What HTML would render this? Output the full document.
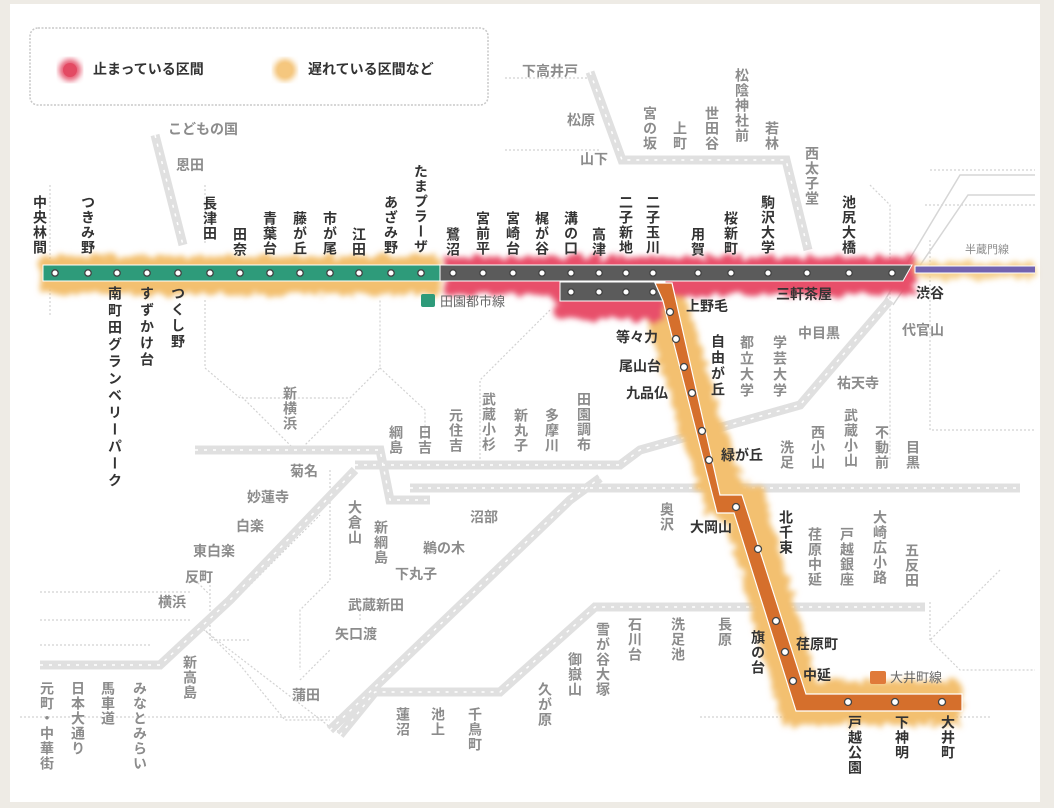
<!DOCTYPE html>
<html><head><meta charset="utf-8">
<style>
body{margin:0;width:1054px;height:808px;background:#eeebe5;overflow:hidden;font-family:"Liberation Sans","Noto Sans CJK JP",sans-serif;}
#p{position:absolute;left:10px;top:4px;width:1030px;height:798px;background:#fff;}
svg{position:absolute;left:0;top:0}
.t{position:absolute;font-weight:bold;font-size:14px;line-height:15px;white-space:nowrap}
.v{writing-mode:vertical-rl;letter-spacing:1px}
.d{color:#333}
.g{color:#8c8c8c}
.lb{letter-spacing:3px}
</style></head><body>
<div id="p"></div>
<svg width="1054" height="808" viewBox="0 0 1054 808">
<defs>
<filter id="b" x="-10%" y="-50%" width="120%" height="200%">
<feTurbulence type="fractalNoise" baseFrequency="0.12" numOctaves="2" result="n"/>
<feDisplacementMap in="SourceGraphic" in2="n" scale="14" xChannelSelector="R" yChannelSelector="G" result="d"/>
<feGaussianBlur in="d" stdDeviation="3"/>
</filter>
<filter id="b2"><feGaussianBlur stdDeviation="3"/></filter>
</defs>
<rect x="30" y="28" width="458" height="77" rx="8" fill="#fff" stroke="#c8c8c8" stroke-dasharray="2 1.5" stroke-width="1.5"/>
<circle cx="70" cy="70" r="11" fill="#e34a63" filter="url(#b2)" opacity=".9"/>
<circle cx="70" cy="70" r="7" fill="#e34a63"/>
<circle cx="285" cy="70" r="11" fill="#f3c070" filter="url(#b2)"/>
<circle cx="285" cy="70" r="7" fill="#f5c77e"/>
<g fill="none" stroke="#d2d2d2" stroke-width="1.2" stroke-dasharray="2 2">
<path d="M505 78H590M505 150H600"/>
<path d="M50 185V315M205 185V245"/>
<path d="M205 300V368L240 398H350L380 368V300M380 368L425 410V440"/>
<path d="M550 310L480 380V465"/>
<path d="M870 185L890 205V460M930 240V430L1035 430M930 170H1035M925 205H1035"/>
<path d="M200 450H295L240 395M300 450L350 400"/>
<path d="M195 580L210 595M210 585V640H250M200 625L240 665L285 720H330"/>
<path d="M200 627L330 727L340 732M330 470V580L300 610L300 670M40 592H190M40 620H190M40 645H150"/>
<path d="M360 620V600M20 717H340M700 717H990"/>
<path d="M1000 570L930 640L960 670H1035M930 640V600"/>
<path d="M240 595L320 515"/>
<path d="M300 680L330 650"/>
</g>
<g fill="none" stroke="#d6d6d6" stroke-width="1.5">
<path d="M885 300L960 175H1035M893 305L968 195H1035"/>
</g>
<g fill="none" stroke="#e0e0e0" stroke-width="9" stroke-linejoin="miter">
<path d="M155 135L183 245"/>
<path d="M590 72L622 160H786L808 250"/>
<path d="M195 450H380L390 500H430"/>
<path d="M355 465H620L640 450L800 405L890 300"/>
<path d="M410 488H1020"/>
<path d="M40 665H160L230 600L355 470"/>
<path d="M330 730L570 500L600 478"/>
<path d="M340 735L375 692H500L595 607H925"/>
</g>
<g fill="none" stroke="#fff" stroke-width="1.5" stroke-dasharray="3 6">
<path d="M155 135L183 245"/>
<path d="M590 72L622 160H786L808 250"/>
<path d="M195 450H380L390 500H430"/>
<path d="M355 465H620L640 450L800 405L890 300"/>
<path d="M410 488H1020"/>
<path d="M40 665H160L230 600L355 470"/>
<path d="M330 730L570 500L600 478"/>
<path d="M340 735L375 692H500L595 607H925"/>
</g>
<g filter="url(#b)">
<path d="M40 275H440" stroke="#f3c070" stroke-width="38" fill="none"/>
<path d="M905 270H1035" stroke="#f6d08e" stroke-width="16" fill="none"/>
<path d="M660 290L700 420L725 497L745 505L800 703H960" stroke="#f3c070" stroke-width="44" fill="none"/>
<path d="M445 276H915" stroke="#e8506a" stroke-width="38" fill="none"/>
<path d="M555 300H665" stroke="#e8506a" stroke-width="40" fill="none"/>
</g>
<rect x="43" y="265" width="400" height="16" fill="#2e9b7a" stroke="#fff" stroke-width="1"/>
<path d="M440 265H912L903 281H440Z" fill="#5b5b5b" stroke="#fff"/>
<path d="M560 282H665V301H560Z" fill="#5b5b5b" stroke="#fff"/>
<path d="M1035 266H915V273H1035" fill="#7263b0" stroke="#fff" stroke-width="1"/>
<path d="M655 283L672 283L720 495L742 495L806 694H962V711H796L734 513L717 513L663 301Z" fill="#d56f2c" stroke="#fff" stroke-width="1.2"/>
<g fill="#fff" stroke="#444" stroke-width="1.3">
<circle cx="55" cy="273" r="3.2"/><circle cx="88" cy="273" r="3.2"/><circle cx="117" cy="273" r="3.2"/><circle cx="147" cy="273" r="3.2"/><circle cx="178" cy="273" r="3.2"/><circle cx="210" cy="273" r="3.2"/><circle cx="240" cy="273" r="3.2"/><circle cx="270" cy="273" r="3.2"/><circle cx="300" cy="273" r="3.2"/><circle cx="330" cy="273" r="3.2"/><circle cx="359" cy="273" r="3.2"/><circle cx="391" cy="273" r="3.2"/><circle cx="421" cy="273" r="3.2"/>
<circle cx="453" cy="273" r="3.2"/><circle cx="483" cy="273" r="3.2"/><circle cx="513" cy="273" r="3.2"/><circle cx="542" cy="273" r="3.2"/><circle cx="571" cy="273" r="3.2"/><circle cx="599" cy="273" r="3.2"/><circle cx="626" cy="273" r="3.2"/><circle cx="653" cy="273" r="3.2"/><circle cx="698" cy="273" r="3.2"/><circle cx="731" cy="273" r="3.2"/><circle cx="768" cy="273" r="3.2"/><circle cx="807" cy="273" r="3.2"/><circle cx="849" cy="273" r="3.2"/><circle cx="892" cy="273" r="3.2"/>
<circle cx="571" cy="292" r="3.2"/><circle cx="599" cy="292" r="3.2"/><circle cx="626" cy="292" r="3.2"/><circle cx="653" cy="292" r="3.2"/>
<circle cx="670" cy="312" r="3.5"/><circle cx="676" cy="339" r="3.5"/><circle cx="684" cy="367" r="3.5"/><circle cx="692" cy="393" r="3.5"/><circle cx="702" cy="431" r="3.5"/><circle cx="709" cy="460" r="3.5"/><circle cx="736" cy="507" r="3.5"/><circle cx="758" cy="549" r="3.5"/><circle cx="776" cy="621" r="3.5"/><circle cx="785" cy="652" r="3.5"/><circle cx="793" cy="681" r="3.5"/><circle cx="848" cy="702" r="3.5"/><circle cx="895" cy="702" r="3.5"/><circle cx="942" cy="702" r="3.5"/>
</g>
<rect x="421" y="294" width="14" height="13" rx="2" fill="#2e9b7a"/>
<rect x="870" y="671" width="16" height="13" rx="2" fill="#e07a3a"/>
</svg>

<div class="t d" style="left:93px;top:62px">止まっている区間</div>
<div class="t d" style="left:308px;top:62px">遅れている区間など</div>
<div class="t g" style="left:440px;top:294px;font-weight:normal;font-size:13px;color:#666">田園都市線</div>
<div class="t g" style="left:890px;top:670px;font-weight:normal;font-size:13px;color:#666">大井町線</div>
<div class="t g" style="left:965px;top:243px;font-weight:normal;font-size:11px">半蔵門線</div>

<div class="t d v" style="left:32px;top:195px">中央林間</div>
<div class="t d v" style="left:80px;top:195px">つきみ野</div>
<div class="t d v" style="left:202px;top:196px">長津田</div>
<div class="t d v" style="left:232px;top:227px">田奈</div>
<div class="t d v" style="left:262px;top:211px">青葉台</div>
<div class="t d v" style="left:292px;top:211px">藤が丘</div>
<div class="t d v" style="left:322px;top:211px">市が尾</div>
<div class="t d v" style="left:351px;top:227px">江田</div>
<div class="t d v" style="left:383px;top:195px">あざみ野</div>
<div class="t d v" style="left:413px;top:164px">たまプラーザ</div>
<div class="t d v" style="left:445px;top:227px">鷺沼</div>
<div class="t d v" style="left:475px;top:211px">宮前平</div>
<div class="t d v" style="left:505px;top:211px">宮崎台</div>
<div class="t d v" style="left:534px;top:211px">梶が谷</div>
<div class="t d v" style="left:563px;top:211px">溝の口</div>
<div class="t d v" style="left:591px;top:227px">高津</div>
<div class="t d v" style="left:618px;top:195px">二子新地</div>
<div class="t d v" style="left:645px;top:195px">二子玉川</div>
<div class="t d v" style="left:690px;top:227px">用賀</div>
<div class="t d v" style="left:723px;top:211px">桜新町</div>
<div class="t d v" style="left:760px;top:195px">駒沢大学</div>
<div class="t d v" style="left:841px;top:195px">池尻大橋</div>
<div class="t d v lb" style="left:107px;top:286px">南町田グランベリーパーク</div>
<div class="t d v" style="left:139px;top:286px;letter-spacing:2.5px">すずかけ台</div>
<div class="t d v" style="left:170px;top:286px;letter-spacing:2px">つくし野</div>
<div class="t d v" style="left:710px;top:334px;letter-spacing:2px">自由が丘</div>
<div class="t d v" style="left:778px;top:510px">北千束</div>
<div class="t d v" style="left:750px;top:630px">旗の台</div>
<div class="t d v" style="left:847px;top:715px">戸越公園</div>
<div class="t d v" style="left:894px;top:715px">下神明</div>
<div class="t d v" style="left:940px;top:715px">大井町</div>
<div class="t d" style="left:686px;top:299px">上野毛</div>
<div class="t d" style="left:776px;top:287px">三軒茶屋</div>
<div class="t d" style="left:916px;top:286px">渋谷</div>
<div class="t d" style="left:616px;top:330px">等々力</div>
<div class="t d" style="left:619px;top:359px">尾山台</div>
<div class="t d" style="left:626px;top:386px">九品仏</div>
<div class="t d" style="left:721px;top:448px">緑が丘</div>
<div class="t d" style="left:690px;top:520px">大岡山</div>
<div class="t d" style="left:796px;top:637px">荏原町</div>
<div class="t d" style="left:803px;top:668px">中延</div>

<div class="t g" style="left:168px;top:122px">こどもの国</div>
<div class="t g" style="left:176px;top:158px">恩田</div>
<div class="t g" style="left:522px;top:64px">下高井戸</div>
<div class="t g" style="left:567px;top:113px">松原</div>
<div class="t g" style="left:580px;top:152px">山下</div>
<div class="t g" style="left:798px;top:326px">中目黒</div>
<div class="t g" style="left:837px;top:376px">祐天寺</div>
<div class="t g" style="left:902px;top:323px">代官山</div>
<div class="t g" style="left:290px;top:464px">菊名</div>
<div class="t g" style="left:247px;top:490px">妙蓮寺</div>
<div class="t g" style="left:236px;top:519px">白楽</div>
<div class="t g" style="left:193px;top:544px">東白楽</div>
<div class="t g" style="left:185px;top:570px">反町</div>
<div class="t g" style="left:158px;top:595px">横浜</div>
<div class="t g" style="left:470px;top:510px">沼部</div>
<div class="t g" style="left:423px;top:541px">鵜の木</div>
<div class="t g" style="left:395px;top:567px">下丸子</div>
<div class="t g" style="left:348px;top:598px">武蔵新田</div>
<div class="t g" style="left:335px;top:627px">矢口渡</div>
<div class="t g" style="left:292px;top:688px">蒲田</div>
<div class="t g v" style="left:642px;top:106px">宮の坂</div>
<div class="t g v" style="left:672px;top:121px">上町</div>
<div class="t g v" style="left:704px;top:106px">世田谷</div>
<div class="t g v" style="left:734px;top:68px">松陰神社前</div>
<div class="t g v" style="left:764px;top:121px">若林</div>
<div class="t g v" style="left:804px;top:146px">西太子堂</div>
<div class="t g v" style="left:282px;top:386px">新横浜</div>
<div class="t g v" style="left:388px;top:425px">綱島</div>
<div class="t g v" style="left:417px;top:425px">日吉</div>
<div class="t g v" style="left:448px;top:408px">元住吉</div>
<div class="t g v" style="left:481px;top:392px">武蔵小杉</div>
<div class="t g v" style="left:513px;top:408px">新丸子</div>
<div class="t g v" style="left:544px;top:408px">多摩川</div>
<div class="t g v" style="left:576px;top:392px">田園調布</div>
<div class="t g v" style="left:739px;top:335px;letter-spacing:2px">都立大学</div>
<div class="t g v" style="left:772px;top:335px;letter-spacing:2px">学芸大学</div>
<div class="t g v" style="left:779px;top:440px">洗足</div>
<div class="t g v" style="left:810px;top:425px">西小山</div>
<div class="t g v" style="left:843px;top:408px">武蔵小山</div>
<div class="t g v" style="left:874px;top:425px">不動前</div>
<div class="t g v" style="left:905px;top:440px">目黒</div>
<div class="t g v" style="left:659px;top:502px">奥沢</div>
<div class="t g v" style="left:807px;top:527px">荏原中延</div>
<div class="t g v" style="left:839px;top:527px">戸越銀座</div>
<div class="t g v" style="left:872px;top:510px">大崎広小路</div>
<div class="t g v" style="left:904px;top:543px">五反田</div>
<div class="t g v" style="left:347px;top:500px">大倉山</div>
<div class="t g v" style="left:373px;top:520px">新綱島</div>
<div class="t g v" style="left:627px;top:617px">石川台</div>
<div class="t g v" style="left:670px;top:617px">洗足池</div>
<div class="t g v" style="left:717px;top:617px">長原</div>
<div class="t g v" style="left:595px;top:622px">雪が谷大塚</div>
<div class="t g v" style="left:567px;top:652px">御嶽山</div>
<div class="t g v" style="left:537px;top:682px">久が原</div>
<div class="t g v" style="left:395px;top:707px">蓮沼</div>
<div class="t g v" style="left:430px;top:707px">池上</div>
<div class="t g v" style="left:467px;top:707px">千鳥町</div>
<div class="t g v" style="left:182px;top:655px">新高島</div>
<div class="t g v" style="left:39px;top:681px">元町・中華街</div>
<div class="t g v" style="left:70px;top:681px">日本大通り</div>
<div class="t g v" style="left:100px;top:681px">馬車道</div>
<div class="t g v" style="left:132px;top:681px">みなとみらい</div>
</body></html>
